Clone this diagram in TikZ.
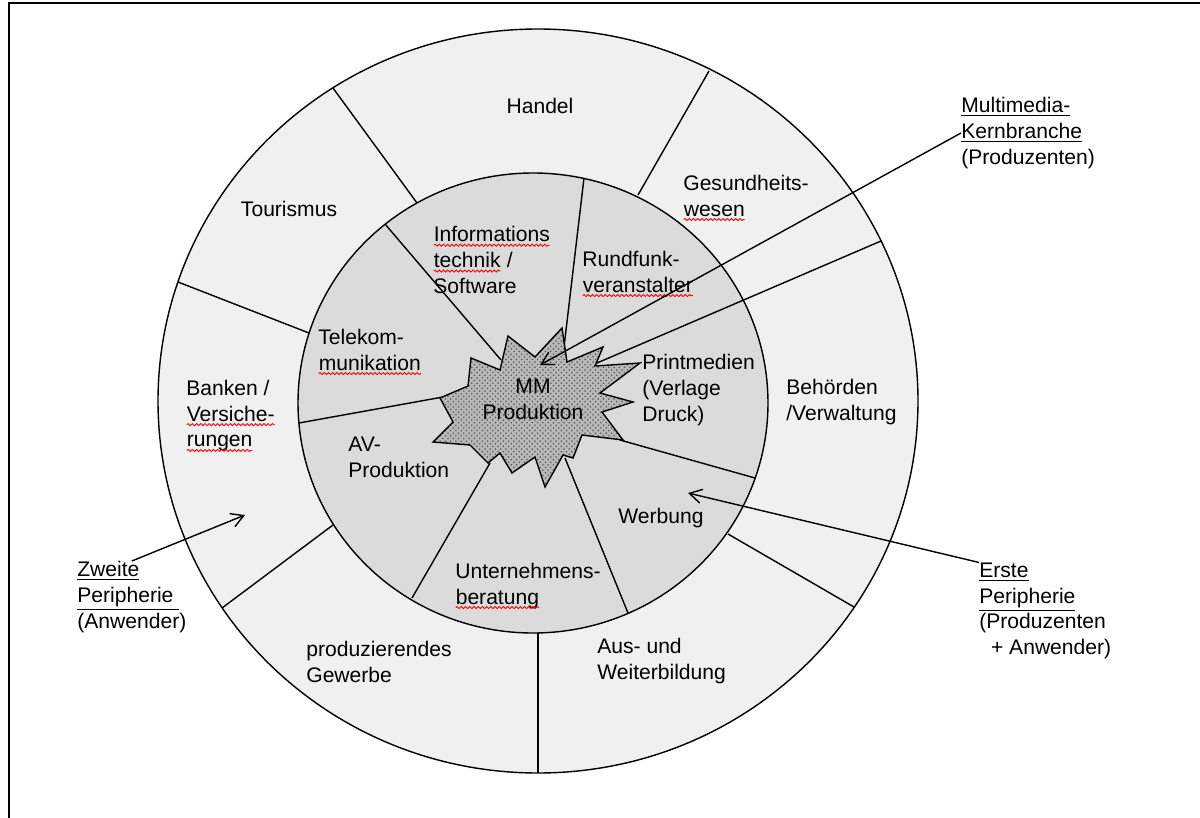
\documentclass[tikz,border=0pt]{standalone}
\usepackage{fontspec}
\setmainfont{Liberation Sans}
\usetikzlibrary{arrows.meta,patterns,decorations.pathmorphing}

\definecolor{ringout}{gray}{0.94}
\definecolor{ringin}{gray}{0.86}
\definecolor{starfill}{gray}{0.72}

\newcommand\spellwave[1]{\tikz[baseline=(w.base)]{\node[inner sep=0pt, outer sep=0pt] (w) {#1};
    \draw[red, line width=0.5pt, decorate, decoration={snake, amplitude=0.6pt, segment length=2.4pt}]
        ([yshift=-2pt]w.base west) -- ([yshift=-2pt]w.base east);}}

\begin{document}
\begin{tikzpicture}[x=0.02cm, y=-0.02cm,
    >={Straight Barb[length=7pt,width=8pt]},
    sector/.style={draw, line width=0.8pt},
    lbl/.style={inner sep=0pt, align=left, anchor=west, font=\fontsize{12}{14.7}\selectfont},
    pointer/.style={->, line width=0.8pt}]
    \useasboundingbox (0,0) rectangle (1200,818);
    \draw[line width=1.2pt] (9,818) -- (9,3) -- (1200,3);

    % rings
    \filldraw[sector, fill=ringout] (538,401) ellipse [x radius=380, y radius=372];
    \filldraw[sector, fill=ringin] (533,403) ellipse [x radius=235, y radius=230];

    % outer ring dividers
    \draw[sector] (333,88) -- (417,203);
    \draw[sector] (709,71) -- (638,195);
    \draw[sector] (881,241) -- (597,363);
    \draw[sector] (854,607) -- (728,534);
    \draw[sector] (538,773) -- (538,633);
    \draw[sector] (222,608) -- (333,525);
    \draw[sector] (178,282) -- (309,333);

    % inner ring dividers
    \draw[sector] (385,224) -- (501,360);
    \draw[sector] (584,178) -- (562,364);
    \draw[sector] (755,478) -- (620,440);
    \draw[sector] (628,613) -- (565,458);
    \draw[sector] (412,598) -- (490,463);
    \draw[sector] (299,423) -- (443,397);

    % star
    \draw[sector, preaction={fill=starfill}, pattern=crosshatch dots, pattern color=black!65]
        (440,398) -- (468,386) -- (471,358) -- (500,370) -- (508,336) -- (535,357)
        -- (562,328) -- (567,362) -- (603,347) -- (595,366) -- (640,363) -- (600,393)
        -- (633,402) -- (602,412) -- (623,440) -- (582,435) -- (573,458) -- (563,455)
        -- (545,487) -- (535,457) -- (512,473) -- (500,453) -- (488,463) -- (470,445)
        -- (433,442) -- (453,422) -- cycle;
    \node[lbl, anchor=center, align=center] (mm) at (533,399) {MM\\Produktion};

    % outer ring
    \node[lbl, anchor=center] (handel) at (540,106) {Handel};
    \node[lbl, anchor=center] (tourismus) at (289,209) {Tourismus};
    \node[lbl] (gesundheit) at (683,198) {Gesundheits-\\\spellwave{wesen}};
    \node[lbl] (behoerden) at (786,402) {Behörden\\/Verwaltung};
    \node[lbl] (banken) at (186,416) {Banken /\\\spellwave{Versiche-}\\\spellwave{rungen}};
    \node[lbl] (gewerbe) at (306,662) {produzierendes\\Gewerbe};
    \node[lbl] (bildung) at (597,661) {Aus- und\\Weiterbildung};

    % inner ring
    \node[lbl] (info) at (433,260) {\spellwave{Informations}\\\spellwave{technik} /\\Software};
    \node[lbl] (rundfunk) at (582,274) {Rundfunk-\\\spellwave{veranstalter}};
    \node[lbl] (telekom) at (318,352) {Telekom-\\\spellwave{munikation}};
    \node[lbl] (print) at (642,390) {Printmedien\\(Verlage\\Druck)};
    \node[lbl] (av) at (348,457) {AV-\\Produktion};
    \node[lbl, anchor=center] (werbung) at (661,518) {Werbung};
    \node[lbl] (beratung) at (455,586) {Unternehmens-\\\spellwave{beratung}};

    % legend labels
    \node[lbl] (multimedia) at (961,133) {\underline{Multimedia-}\\\underline{Kernbranche}\\(Produzenten)};
    \node[lbl] (zweite) at (77,597) {\underline{Zweite}\\\underline{Peripherie\ }\\(Anwender)};
    \node[lbl] (erste) at (979,611) {\underline{Erste}\\\underline{Peripherie}\\(Produzenten\\\ \ + Anwender)};

    \coordinate (mmtip) at (540,365);
    \coordinate (zweitetip) at (245,515);
    \coordinate (erstetip) at (688,493);
    \draw[pointer] (multimedia.west) -- (mmtip);
    \draw[pointer] (zweite.north) -- (zweitetip);
    \draw[pointer] (erste.north west) -- (erstetip);
\end{tikzpicture}
\end{document}
